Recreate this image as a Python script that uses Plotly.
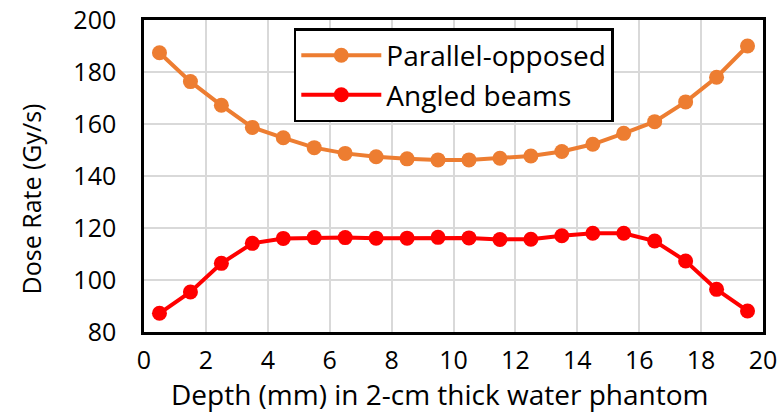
import plotly.graph_objects as go

depth = [0.5, 1.5, 2.5, 3.5, 4.5, 5.5, 6.5, 7.5, 8.5, 9.5,
         10.5, 11.5, 12.5, 13.5, 14.5, 15.5, 16.5, 17.5, 18.5, 19.5]
parallel_opposed = [187.4, 176.3, 167.2, 158.7, 154.7, 150.9, 148.7, 147.4, 146.6, 146.2,
                    146.2, 146.8, 147.7, 149.4, 152.2, 156.4, 160.9, 168.5, 178.0, 190.0]
angled_beams = [87.2, 95.4, 106.4, 114.1, 116.0, 116.3, 116.3, 116.1, 116.1, 116.4,
                116.2, 115.6, 115.7, 117.0, 118.0, 118.0, 115.0, 107.3, 96.4, 88.1]
x_ticks = [0, 2, 4, 6, 8, 10, 12, 14, 16, 18, 20]
y_ticks = [80, 100, 120, 140, 160, 180, 200]
x_title = "Depth (mm) in 2-cm thick water phantom"
y_title = "Dose Rate (Gy/s)"

FONT = "Open Sans"

fig = go.Figure()
fig.add_trace(go.Scatter(x=depth, y=parallel_opposed, mode="lines+markers",
                         name="Parallel-opposed",
                         line=dict(color="#ED7D31", width=4),
                         marker=dict(color="#ED7D31", size=15)))
fig.add_trace(go.Scatter(x=depth, y=angled_beams, mode="lines+markers",
                         name="Angled beams",
                         line=dict(color="#FF0000", width=4),
                         marker=dict(color="#FF0000", size=15)))

axis_common = dict(showline=True, linecolor="black", linewidth=2.5, mirror=True,
                   showgrid=True, gridcolor="#D9D9D9", gridwidth=1.5,
                   zeroline=False, tickcolor="rgba(0,0,0,0)",
                   tickfont=dict(size=25, color="black", family=FONT))

fig.update_layout(
    width=780, height=412,
    margin=dict(l=144, r=17, t=20, b=80, autoexpand=False),
    paper_bgcolor="white", plot_bgcolor="white",
    font=dict(family=FONT, color="black", size=25),
    xaxis=dict(range=[0, 20], tickvals=x_ticks, ticks="outside", ticklen=4,
               **axis_common),
    yaxis=dict(range=[80, 200], tickvals=y_ticks, ticks="outside", ticklen=20,
               **axis_common),
    legend=dict(x=0.242, y=0.974, xanchor="left", yanchor="top",
                bordercolor="black", borderwidth=2.5, bgcolor="white",
                font=dict(size=28, color="black", family=FONT),
                itemwidth=80, tracegroupgap=0),
    showlegend=True,
    annotations=[
        dict(text=x_title, xref="paper", yref="paper", x=0.478, y=-0.198,
             xanchor="center", yanchor="middle", showarrow=False,
             font=dict(size=28, color="black", family=FONT)),
        dict(text=y_title, xref="paper", yref="paper", x=-0.181, y=0.428,
             xanchor="center", yanchor="middle", showarrow=False, textangle=-90,
             font=dict(size=25, color="black", family=FONT)),
    ],
)

fig.write_html("out.html")
